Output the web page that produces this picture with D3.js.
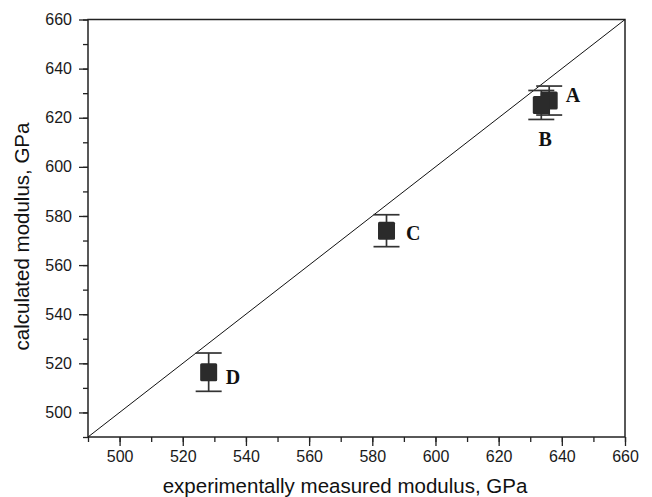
<!DOCTYPE html>
<html>
<head>
<meta charset="utf-8">
<script src="https://cdn.jsdelivr.net/npm/d3@7"></script>
<style>
  body { margin: 0; background: #fff; }
  text { font-family: "Liberation Sans", Arial, sans-serif; }
</style>
</head>
<body>
<div id="app"></div>
<script>
const width = 652,
    height = 497;
const margin = {left: 88, right: 27, top: 19.5, bottom: 60};

// data
const labels = ["A", "B", "C", "D"];
const measured = [636, 633.5, 584.5, 528.2];
const calculated = [627, 625.2, 574, 516.4];
const errors = [5.9, 5.9, 6.5, 7.8];
const labelOffset = [[16.5, 1.5], [-2.7, 41], [19.5, 9], [17, 12]];
const majorTicks = [500, 520, 540, 560, 580, 600, 620, 640, 660];
const minorTicks = d3.range(490, 661, 10);
const diagonal = [490, 660];

const points = labels.map((l, i) => ({
    label: l, x: measured[i], y: calculated[i], err: errors[i], off: labelOffset[i]
}));

const x = d3.scaleLinear().domain([490, 660]).range([margin.left, width - margin.right]);
const y = d3.scaleLinear().domain([490, 660]).range([height - margin.bottom, margin.top]);

const svg = d3.select("#app")
    .append("svg")
    .attr("width", width)
    .attr("height", height);

// minor ticks
svg.append("g")
    .attr("transform", `translate(0, ${y(490)})`)
    .call(d3.axisBottom(x).tickValues(minorTicks).tickSize(5).tickFormat(""))
    .call(g => g.select(".domain").remove())
    .selectAll("line").attr("stroke", "#222").attr("stroke-width", 1.3);

svg.append("g")
    .attr("transform", `translate(${x(490)}, 0)`)
    .call(d3.axisLeft(y).tickValues(minorTicks).tickSize(5).tickFormat(""))
    .call(g => g.select(".domain").remove())
    .selectAll("line").attr("stroke", "#222").attr("stroke-width", 1.3);

// major ticks + labels
const xAxis = svg.append("g")
    .attr("transform", `translate(0, ${y(490)})`)
    .call(d3.axisBottom(x).tickValues(majorTicks).tickSize(9).tickPadding(5))
    .call(g => g.select(".domain").remove());
xAxis.selectAll("line").attr("stroke", "#222").attr("stroke-width", 1.3);
xAxis.selectAll("text").attr("font-size", 16).attr("fill", "#1a1a1a")
    .style("font-family", "Liberation Sans, Arial, sans-serif");

const yAxis = svg.append("g")
    .attr("transform", `translate(${x(490)}, 0)`)
    .call(d3.axisLeft(y).tickValues(majorTicks).tickSize(9).tickPadding(7))
    .call(g => g.select(".domain").remove());
yAxis.selectAll("line").attr("stroke", "#222").attr("stroke-width", 1.3);
yAxis.selectAll("text").attr("font-size", 16).attr("fill", "#1a1a1a")
    .style("font-family", "Liberation Sans, Arial, sans-serif");

// frame
svg.append("rect")
    .attr("x", x(490)).attr("y", y(660))
    .attr("width", x(660) - x(490)).attr("height", y(490) - y(660))
    .attr("fill", "none").attr("stroke", "#222").attr("stroke-width", 1.5);

// y = x line
svg.append("line")
    .attr("x1", x(diagonal[0])).attr("y1", y(diagonal[0]))
    .attr("x2", x(diagonal[1])).attr("y2", y(diagonal[1]))
    .attr("stroke", "#111").attr("stroke-width", 1);

// error bars
const eb = svg.append("g").attr("stroke", "#333").attr("stroke-width", 1.7);
points.forEach(d => {
    const cx = x(d.x);
    eb.append("line").attr("x1", cx).attr("x2", cx).attr("y1", y(d.y + d.err)).attr("y2", y(d.y - d.err));
    eb.append("line").attr("x1", cx - 13).attr("x2", cx + 13).attr("y1", y(d.y + d.err)).attr("y2", y(d.y + d.err));
    eb.append("line").attr("x1", cx - 13).attr("x2", cx + 13).attr("y1", y(d.y - d.err)).attr("y2", y(d.y - d.err));
});

// squares
svg.append("g").selectAll("rect")
    .data(points).enter()
    .append("rect")
    .attr("x", d => x(d.x) - 8.5)
    .attr("y", d => y(d.y) - 9)
    .attr("width", 17)
    .attr("height", 18)
    .attr("rx", 1.5)
    .attr("fill", "#2b2b2b");

// point labels
svg.append("g").selectAll("text")
    .data(points).enter()
    .append("text")
    .attr("x", d => x(d.x) + d.off[0])
    .attr("y", d => y(d.y) + d.off[1])
    .attr("font-size", 20)
    .attr("font-weight", "bold")
    .style("font-family", "Liberation Serif, Times New Roman, serif")
    .attr("fill", "#111")
    .text(d => d.label);

// axis titles
svg.append("text")
    .attr("x", 345)
    .attr("y", 493)
    .attr("text-anchor", "middle")
    .attr("font-size", 20.5)
    .attr("fill", "#111")
    .text("experimentally measured modulus, GPa");

svg.append("text")
    .attr("transform", `translate(29, 236.5) rotate(-90)`)
    .attr("text-anchor", "middle")
    .attr("font-size", 20.5)
    .attr("fill", "#111")
    .text("calculated modulus, GPa");
</script>
</body>
</html>
